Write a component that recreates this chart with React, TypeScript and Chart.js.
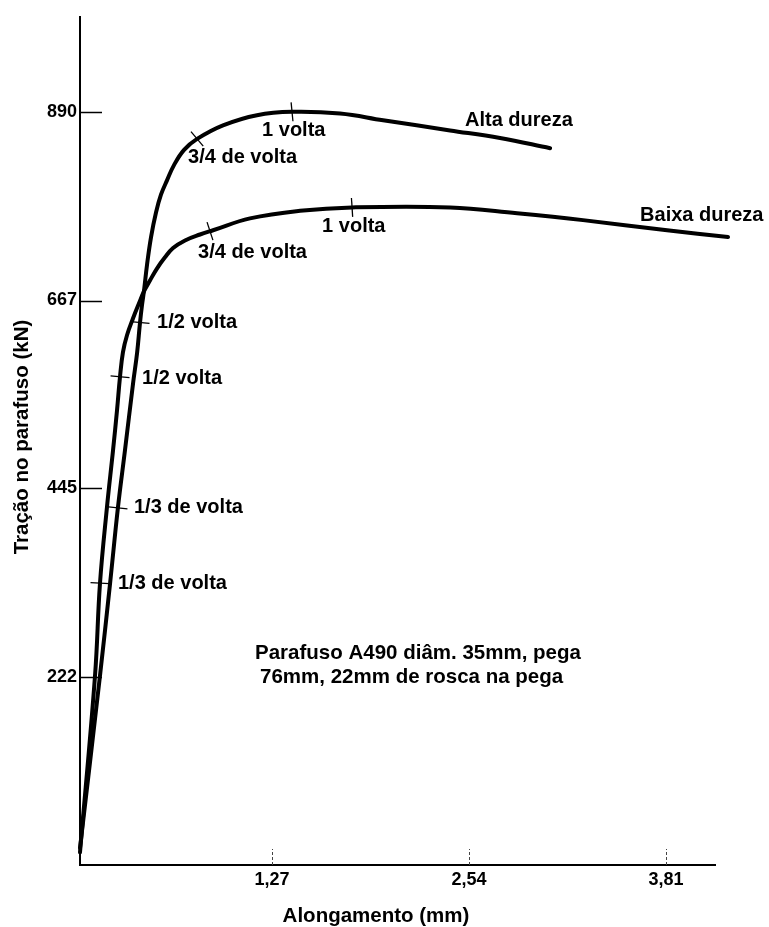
import React, { useEffect, useRef } from "react";
import { Chart, registerables } from "chart.js";

Chart.register(...registerables);

// ---- Data ----
const ALTA_X = [0.032, 0.161, 0.226, 0.277, 0.322, 0.374, 0.400, 0.419, 0.432, 0.445, 0.464, 0.490, 0.522, 0.554, 0.593, 0.638, 0.703, 0.787, 0.954, 1.173, 1.399, 1.709, 1.986, 2.418, 2.740, 3.063];
const ALTA_Y = [20, 224, 333, 423, 490, 569, 605, 641, 662, 679, 709, 742, 771, 792, 809, 827, 845, 858, 874, 886, 890, 888, 880, 868, 859, 847];

const BAIXA_X = [0.032, 0.129, 0.161, 0.206, 0.245, 0.271, 0.290, 0.309, 0.335, 0.374, 0.413, 0.445, 0.484, 0.529, 0.580, 0.632, 0.709, 0.806, 0.890, 1.128, 1.451, 1.786, 2.418, 2.850, 3.275, 3.817, 4.210];
const BAIXA_Y = [15, 224, 333, 423, 490, 538, 577, 606, 626, 646, 664, 678, 691, 705, 718, 729, 738, 745, 750, 764, 773, 777, 777, 770, 762, 750, 742];

const X_TICKS = [1.27, 2.54, 3.81];
const X_TICK_LABELS = ["1,27", "2,54", "3,81"];
const Y_TICKS = [222, 445, 667, 890];
const Y_TICK_LABELS = ["222", "445", "667", "890"];

const X_TITLE = "Alongamento (mm)";
const Y_TITLE = "Tração no parafuso (kN)";

// turn marks along each curve
const MARK_LABELS = ["1/3 de volta", "1/2 volta", "3/4 de volta", "1 volta"];
const ALTA_MARK_X = [0.277, 0.419, 0.787, 1.399];
const ALTA_MARK_Y = [422, 641, 858, 890];
const BAIXA_MARK_X = [0.161, 0.290, 0.870, 1.786];
const BAIXA_MARK_Y = [333, 577, 749, 777];

// label anchors (left edge, middle) in data units
const ALTA_LABEL_X = [0.380, 0.529, 0.729, 1.206];
const ALTA_LABEL_Y = [422, 641, 836, 868];
const BAIXA_LABEL_X = [0.277, 0.432, 0.793, 1.593];
const BAIXA_LABEL_Y = [333, 575, 724, 754];

const SERIES_NAMES = ["Alta dureza", "Baixa dureza"];
const SERIES_NAME_X = [2.514, 3.643];
const SERIES_NAME_Y = [880, 767];

const NOTE_LINES = ["Parafuso A490 diâm. 35mm, pega", "76mm, 22mm de rosca na pega"];
const NOTE_X = [2.211, 2.170];
const NOTE_Y = [250, 222];

const FONT = "'Liberation Sans', Arial, Helvetica, sans-serif";

const overlay = {
  id: "overlay",
  afterDatasetsDraw(chart: any) {
    const ctx: CanvasRenderingContext2D = chart.ctx;
    const xs = chart.scales.x;
    const ys = chart.scales.y;
    const line = (x1: number, y1: number, x2: number, y2: number) => {
      ctx.beginPath();
      ctx.moveTo(x1, y1);
      ctx.lineTo(x2, y2);
      ctx.stroke();
    };
    ctx.save();
    ctx.strokeStyle = "#000";
    ctx.fillStyle = "#000";

    // inner y ticks
    ctx.lineWidth = 1.5;
    Y_TICKS.forEach((v) => {
      const py = Math.round(ys.getPixelForValue(v)) + 0.5;
      line(xs.left, py, xs.left + 22, py);
    });
    // inner x ticks (thin dashed)
    ctx.lineWidth = 1;
    ctx.strokeStyle = "#444";
    ctx.setLineDash([3, 2]);
    X_TICKS.forEach((v) => {
      const px = Math.round(xs.getPixelForValue(v)) + 0.5;
      line(px, ys.bottom, px, ys.bottom - 16);
    });
    ctx.setLineDash([]);
    ctx.strokeStyle = "#000";

    // markers perpendicular to curve
    const drawMarks = (dsIndex: number, mx: number[], my: number[]) => {
      const pts = chart.getDatasetMeta(dsIndex).data;
      mx.forEach((xv, i) => {
        const px = xs.getPixelForValue(xv);
        const py = ys.getPixelForValue(my[i]);
        let best = Infinity;
        let dx = 1;
        let dy = 0;
        for (let k = 0; k < pts.length - 1; k++) {
          const a = pts[k];
          const b = pts[k + 1];
          const vx = b.x - a.x;
          const vy = b.y - a.y;
          const l2 = vx * vx + vy * vy || 1;
          let t = ((px - a.x) * vx + (py - a.y) * vy) / l2;
          t = Math.max(0, Math.min(1, t));
          const cx = a.x + t * vx;
          const cy = a.y + t * vy;
          const d = Math.hypot(px - cx, py - cy);
          if (d < best) {
            best = d;
            dx = vx;
            dy = vy;
          }
        }
        const len = Math.hypot(dx, dy) || 1;
        const nx = -dy / len;
        const ny = dx / len;
        ctx.lineWidth = 1.3;
        line(px - nx * 9.5, py - ny * 9.5, px + nx * 9.5, py + ny * 9.5);
      });
    };
    drawMarks(0, ALTA_MARK_X, ALTA_MARK_Y);
    drawMarks(1, BAIXA_MARK_X, BAIXA_MARK_Y);

    // labels
    ctx.font = `bold 20px ${FONT}`;
    ctx.textBaseline = "middle";
    ctx.textAlign = "left";
    MARK_LABELS.forEach((t, i) => {
      ctx.fillText(t, xs.getPixelForValue(ALTA_LABEL_X[i]), ys.getPixelForValue(ALTA_LABEL_Y[i]));
      ctx.fillText(t, xs.getPixelForValue(BAIXA_LABEL_X[i]), ys.getPixelForValue(BAIXA_LABEL_Y[i]));
    });
    SERIES_NAMES.forEach((t, i) => {
      ctx.fillText(t, xs.getPixelForValue(SERIES_NAME_X[i]), ys.getPixelForValue(SERIES_NAME_Y[i]));
    });
    ctx.font = `bold 20.5px ${FONT}`;
    ctx.textAlign = "center";
    NOTE_LINES.forEach((t, i) => {
      ctx.fillText(t, xs.getPixelForValue(NOTE_X[i]), ys.getPixelForValue(NOTE_Y[i]));
    });

    // axis titles
    ctx.font = `bold 20.5px ${FONT}`;
    ctx.textAlign = "center";
    ctx.fillText(X_TITLE, 376, 916);
    ctx.save();
    ctx.translate(22, 437);
    ctx.rotate(-Math.PI / 2);
    ctx.fillText(Y_TITLE, 0, 0);
    ctx.restore();

    ctx.restore();
  },
};

export default function App() {
  const ref = useRef<HTMLCanvasElement | null>(null);
  useEffect(() => {
    if (!ref.current) return;
    const common = {
      borderColor: "#000",
      borderWidth: 4,
      pointRadius: 0,
      tension: 0.4,
      borderCapStyle: "round" as const,
      borderJoinStyle: "round" as const,
      clip: false as any,
    };
    const chart = new Chart(ref.current, {
      type: "line",
      data: {
        datasets: [
          { label: SERIES_NAMES[0], data: ALTA_X.map((x, i) => ({ x, y: ALTA_Y[i] })), ...common },
          { label: SERIES_NAMES[1], data: BAIXA_X.map((x, i) => ({ x, y: BAIXA_Y[i] })), ...common },
        ],
      },
      options: {
        responsive: false,
        animation: false,
        devicePixelRatio: 1,
        layout: { padding: { left: 0, right: 54, top: 17, bottom: 0 } },
        plugins: { legend: { display: false }, tooltip: { enabled: false } },
        events: [],
        scales: {
          x: {
            type: "linear",
            min: 0.032,
            max: 4.126,
            grid: { display: false, drawTicks: false },
            border: { display: true, color: "#000", width: 2 },
            afterBuildTicks: (s: any) => {
              s.ticks = X_TICKS.map((v) => ({ value: v }));
            },
            afterFit: (s: any) => {
              s.height = 62;
            },
            ticks: {
              padding: 4,
              color: "#000",
              maxRotation: 0,
              autoSkip: false,
              font: { family: FONT, size: 18, weight: "bold" },
              callback: (v: any) => {
                const i = X_TICKS.findIndex((t) => Math.abs(t - Number(v)) < 1e-6);
                return i >= 0 ? X_TICK_LABELS[i] : "";
              },
            },
          },
          y: {
            type: "linear",
            min: 0,
            max: 1002,
            grid: { display: false, drawTicks: false },
            border: { display: true, color: "#000", width: 2 },
            afterBuildTicks: (s: any) => {
              s.ticks = Y_TICKS.map((v) => ({ value: v }));
            },
            afterFit: (s: any) => {
              s.width = 80;
            },
            ticks: {
              padding: 3,
              color: "#000",
              autoSkip: false,
              font: { family: FONT, size: 18, weight: "bold" },
              callback: (v: any) => {
                const i = Y_TICKS.indexOf(Number(v));
                return i >= 0 ? Y_TICK_LABELS[i] : "";
              },
            },
          },
        },
      },
      plugins: [overlay],
    });
    return () => chart.destroy();
  }, []);
  return (
    <div style={{ position: "absolute", left: 0, top: 0, width: 769, height: 927, background: "#fff" }}>
      <canvas ref={ref} width={769} height={927} />
    </div>
  );
}
